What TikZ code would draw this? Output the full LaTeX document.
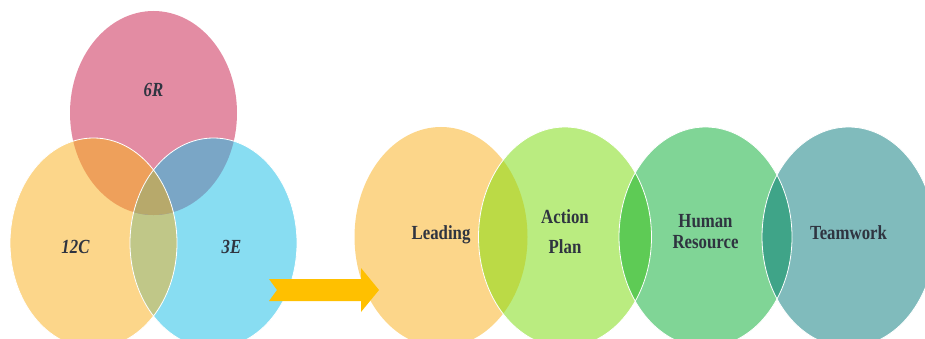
\documentclass[tikz,border=0pt]{standalone}
\usepackage{graphicx}
\usepackage{fontspec}
\setmainfont{Liberation Serif}
\usepackage{tikz}
\usetikzlibrary{calc}
\definecolor{pinkR}{HTML}{E38CA3}
\definecolor{yellowC}{HTML}{FCD68A}
\definecolor{blueE}{HTML}{88DDF2}
\definecolor{orangeRC}{HTML}{EEA05B}
\definecolor{slateRE}{HTML}{7AA6C6}
\definecolor{oliveCE}{HTML}{C0C788}
\definecolor{khakiAll}{HTML}{B7A96B}
\definecolor{limeA}{HTML}{BAEC80}
\definecolor{greenH}{HTML}{80D596}
\definecolor{tealT}{HTML}{80BBBC}
\definecolor{limeLA}{HTML}{BBDA46}
\definecolor{greenAH}{HTML}{5ECB55}
\definecolor{tealHT}{HTML}{3FA488}
\definecolor{arrowgold}{HTML}{FFC000}
\definecolor{ink}{HTML}{2F3440}
\def\drawrim{\draw[color=white, line width=0.8pt]}
\def\lblnode{\node[text=ink, inner sep=0pt, font=\fontsize{20}{24}\selectfont\bfseries]}
\newcommand{\sq}[1]{\scalebox{0.84}[1]{#1}}

\begin{document}
\begin{tikzpicture}[x=1pt,y=-1pt]
\useasboundingbox (0,0) rectangle (925,339);

% ---------- the three overlapping ovals on the left
\coordinate (c6) at (153.5,113);
\coordinate (c12) at ($ (c6) + (-60,130) $);
\coordinate (c3) at ($ (c6) + (60,130) $);
\fill[pinkR] (c6) ellipse (83.5 and 102);
\fill[yellowC] (c12) ellipse (83.5 and 105);
\fill[blueE] (c3) ellipse (83.5 and 105);

% overlaps
\begin{scope}
\clip (c12) ellipse (83.5 and 105);
\fill[oliveCE] (c3) ellipse (83.5 and 105);
\end{scope}
\begin{scope}
\clip (c6) ellipse (83.5 and 102);
\fill[orangeRC] (c12) ellipse (83.5 and 105);
\fill[slateRE] (c3) ellipse (83.5 and 105);
\clip (c12) ellipse (83.5 and 105);
\fill[khakiAll] (c3) ellipse (83.5 and 105);
\end{scope}
\drawrim (c12) ellipse (83.5 and 105);
\drawrim (c3) ellipse (83.5 and 105);

\lblnode[anchor=base] (t6R) at ($ (c6) + (0,-16) $) {\sq{\itshape 6R}};
\lblnode[anchor=base] (t12C) at ($ (c12) + (-18,10) $) {\sq{\itshape 12C}};
\lblnode[anchor=base] (t3E) at ($ (c3) + (18,10) $) {\sq{\itshape 3E}};

% ---------- the row of four ovals on the right
\coordinate (lead) at (441,237);
\coordinate (act) at ($ (lead) + (124,0) $);
\coordinate (hum) at ($ (act) + (140.5,0) $);
\coordinate (team) at ($ (hum) + (143,0) $);
\fill[yellowC] (lead) ellipse (86.5 and 110);
\fill[limeA] (act) ellipse (86.5 and 110);
\fill[greenH] (hum) ellipse (86.5 and 110);
\fill[tealT] (team) ellipse (86.5 and 110);

% overlaps
\begin{scope}
\clip (lead) ellipse (86.5 and 110);
\fill[limeLA] (act) ellipse (86.5 and 110);
\end{scope}
\begin{scope}
\clip (act) ellipse (86.5 and 110);
\fill[greenAH] (hum) ellipse (86.5 and 110);
\end{scope}
\begin{scope}
\clip (hum) ellipse (86.5 and 110);
\fill[tealHT] (team) ellipse (86.5 and 110);
\end{scope}
\drawrim (act) ellipse (86.5 and 110);
\drawrim (hum) ellipse (86.5 and 110);
\drawrim (team) ellipse (86.5 and 110);

\lblnode[anchor=base] (tlead) at ($ (lead) + (0,2) $) {\sq{Leading}};
\lblnode[align=center, font=\fontsize{20}{30}\selectfont\bfseries] (tact) at ($ (act) + (0,-5) $) {\sq{Action}\\\sq{Plan}};
\lblnode[align=center, font=\fontsize{20}{21}\selectfont\bfseries] (thum) at ($ (hum) + (0,-5) $) {\sq{Human}\\\sq{Resource}};
\lblnode[anchor=base] (tteam) at ($ (team) + (0,2) $) {\sq{Teamwork}};

% ---------- notched block arrow between the two groups
\coordinate (tail) at (269,290);
\fill[arrowgold] ($ (tail) + (0,-11) $) -- ($ (tail) + (92,-11) $) -- ($ (tail) + (92,-22) $)
  -- ($ (tail) + (110,0) $) -- ($ (tail) + (92,22) $) -- ($ (tail) + (92,11) $)
  -- ($ (tail) + (0,11) $) -- ($ (tail) + (8,0) $) -- cycle;
\end{tikzpicture}
\end{document}
